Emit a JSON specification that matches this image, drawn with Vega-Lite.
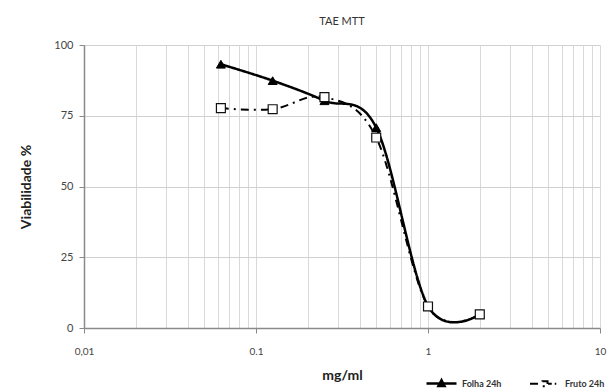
{
  "$schema": "https://vega.github.io/schema/vega-lite/v6.json",
  "autosize": "none",
  "width": 516,
  "height": 283,
  "padding": {"left": 84, "top": 45, "right": 16, "bottom": 64},
  "background": "white",
  "config": {
    "font": "Lato",
    "view": {"stroke": null},
    "axis": {"labelFont": "Lato", "titleFont": "Lato", "labelColor": "#444444", "titleColor": "#222222"}
  },
  "title": {"text": "TAE MTT", "fontSize": 11, "fontWeight": "normal", "color": "#333333", "offset": 12, "anchor": "middle", "font": "Lato"},
  "data": {
    "values": [
      {"series": "Folha 24h", "dose": 0.0625, "viab": 93.2},
      {"series": "Folha 24h", "dose": 0.125, "viab": 87.4},
      {"series": "Folha 24h", "dose": 0.25, "viab": 80.3},
      {"series": "Folha 24h", "dose": 0.5, "viab": 70.8},
      {"series": "Folha 24h", "dose": 1, "viab": 7.8},
      {"series": "Folha 24h", "dose": 2, "viab": 4.8},
      {"series": "Fruto 24h", "dose": 0.0625, "viab": 77.7},
      {"series": "Fruto 24h", "dose": 0.125, "viab": 77.3},
      {"series": "Fruto 24h", "dose": 0.25, "viab": 81.6},
      {"series": "Fruto 24h", "dose": 0.5, "viab": 67.3},
      {"series": "Fruto 24h", "dose": 1, "viab": 7.6},
      {"series": "Fruto 24h", "dose": 2, "viab": 4.8}
    ]
  },
  "encoding": {
    "x": {
      "field": "dose", "type": "quantitative",
      "scale": {"type": "log", "domain": [0.01, 10], "nice": false},
      "axis": {
        "title": "mg/ml", "titleFontSize": 14, "titleFontWeight": "bold", "titlePadding": 12,
        "values": [0.01,0.02,0.03,0.04,0.05,0.06,0.07,0.08,0.09,0.1,0.2,0.3,0.4,0.5,0.6,0.7,0.8,0.9,1,2,3,4,5,6,7,8,9,10],
        "labelExpr": "datum.value == 0.01 ? '0,01' : datum.value == 0.1 ? '0.1' : datum.value == 1 ? '1' : datum.value == 10 ? '10' : ''",
        "labelFontSize": 10, "labelPadding": 13,
        "tickSize": 5, "tickColor": "#888888",
        "tickOpacity": {"condition": {"test": "indexof([0.01,0.1,1,10], datum.value) >= 0", "value": 1}, "value": 0},
        "domainColor": "#8a8a8a", "domainWidth": 1.5,
        "grid": true, "gridColor": "#d9d9d9", "gridWidth": 1,
        "labelFlush": false, "labelOverlap": false
      }
    },
    "y": {
      "field": "viab", "type": "quantitative",
      "scale": {"domain": [0, 100], "nice": false},
      "axis": {
        "title": "Viabilidade %", "titleFontSize": 14, "titleFontWeight": "bold", "titlePadding": 20,
        "values": [0, 25, 50, 75, 100], "labelFontSize": 11, "labelPadding": 6,
        "tickSize": 5, "tickColor": "#888888",
        "domainColor": "#8a8a8a", "domainWidth": 1.5,
        "grid": true, "gridColor": "#d0d0d0", "gridWidth": 1.2
      }
    }
  },
  "layer": [
    {
      "mark": {"type": "line", "interpolate": "cardinal", "tension": 0, "color": "black"},
      "encoding": {
        "strokeDash": {
          "field": "series", "type": "nominal",
          "scale": {"domain": ["Folha 24h", "Fruto 24h"], "range": [[1, 0], [8, 5, 2, 5]]},
          "legend": {
            "title": null, "orient": "none", "legendX": 341, "legendY": 322,
            "direction": "horizontal", "labelFontSize": 9, "labelFontWeight": "bold", "labelColor": "#333333",
            "symbolSize": 900, "columnPadding": 24, "labelOffset": 4,
            "symbolStrokeWidth": 1.5, "symbolStrokeColor": "black",
            "encode": {
              "symbols": {
                "update": {
                  "shape": {"signal": "datum.value == 'Folha 24h' ? 'M-1,0H1M0,-0.22L0.2,0.16L-0.2,0.16Z' : 'M-1,0H-0.2M0.2,0H0.45M0.65,0H0.75M-0.17,-0.17H0.17V0.17H-0.17Z'"},
                  "fill": {"signal": "datum.value == 'Folha 24h' ? 'black' : 'white'"},
                  "stroke": {"value": "black"},
                  "strokeWidth": {"value": 1.5},
                  "strokeDash": {"value": [1, 0]},
                  "opacity": {"value": 1}
                }
              }
            }
          }
        },
        "strokeWidth": {
          "field": "series", "type": "nominal",
          "scale": {"domain": ["Folha 24h", "Fruto 24h"], "range": [2.5, 2]},
          "legend": null
        }
      }
    },
    {
      "transform": [{"filter": "datum.series == 'Folha 24h'"}],
      "mark": {"type": "point", "shape": "triangle-up", "filled": true, "fill": "black", "stroke": "black", "size": 80, "strokeWidth": 1, "opacity": 1}
    },
    {
      "transform": [{"filter": "datum.series == 'Fruto 24h'"}],
      "mark": {"type": "point", "shape": "square", "filled": true, "fill": "white", "stroke": "#111111", "size": 80, "strokeWidth": 1.2, "opacity": 1}
    }
  ]
}
